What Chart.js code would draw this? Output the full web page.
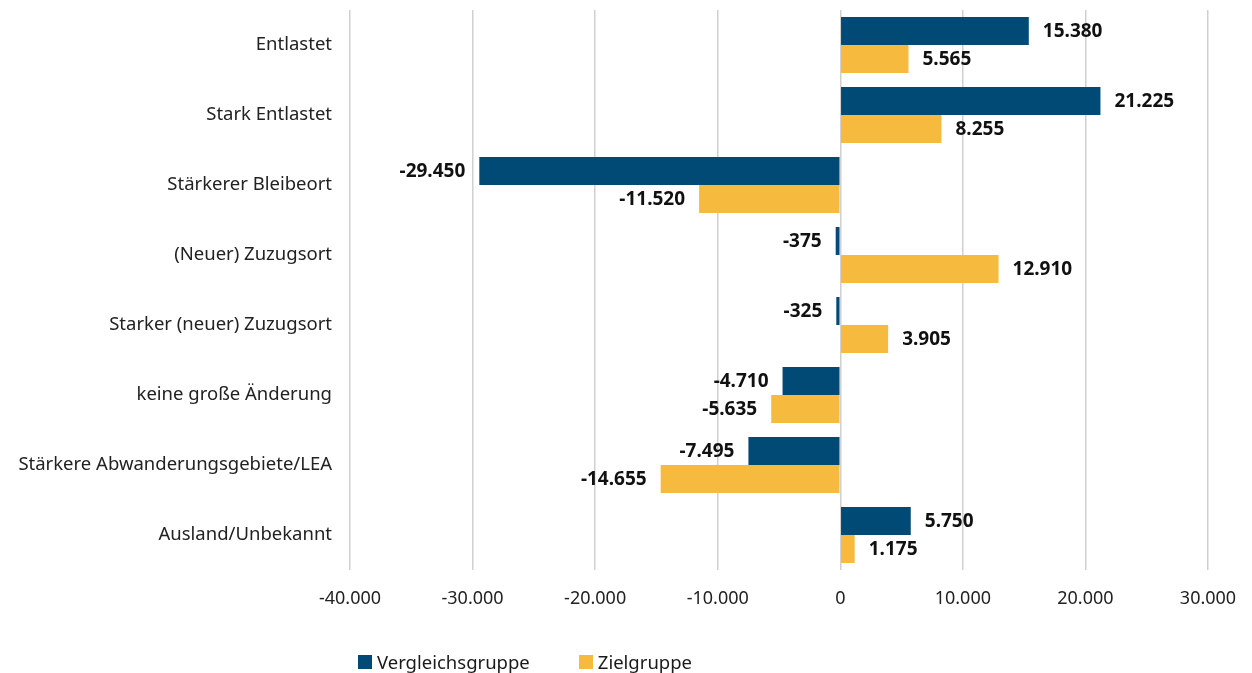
<!DOCTYPE html>
<html lang="de">
<head>
<meta charset="utf-8">
<title>Vergleichsgruppe / Zielgruppe</title>
<script src="https://cdn.jsdelivr.net/npm/chart.js@4"></script>
<style>
  html, body { margin: 0; padding: 0; background: #fff; }
  #wrap { position: relative; width: 1252px; height: 673px; }
  #legend {
    position: absolute; left: 358px; top: 649px;
    font-family: "Noto Sans", sans-serif; font-size: 18.5px; color: #1a1a1a;
    display: flex; align-items: center;
  }
  #legend span.box { display: inline-block; width: 14px; height: 14px; margin-right: 5px; }
  #legend span.item { display: inline-flex; align-items: center; margin-right: 49px; }
</style>
</head>
<body>
<div id="wrap">
  <canvas id="chart" width="1252" height="673"></canvas>
  <div id="legend">
    <span class="item"><span class="box" style="background:#004a75"></span>Vergleichsgruppe</span>
    <span class="item"><span class="box" style="background:#f6bb3e"></span>Zielgruppe</span>
  </div>
</div>
<script>
const categories = [
  'Entlastet',
  'Stark Entlastet',
  'Stärkerer Bleibeort',
  '(Neuer) Zuzugsort',
  'Starker (neuer) Zuzugsort',
  'keine große Änderung',
  'Stärkere Abwanderungsgebiete/LEA',
  'Ausland/Unbekannt'
];
const vergleichsgruppe = [15380, 21225, -29450, -375, -325, -4710, -7495, 5750];
const zielgruppe = [5565, 8255, -11520, 12910, 3905, -5635, -14655, 1175];

const navy = '#004a75';
const yellow = '#f6bb3e';

// 15380 -> "15.380"
function fmt(v) {
  const s = String(Math.abs(v)).replace(/\B(?=(\d{3})+(?!\d))/g, '.');
  return (v < 0 ? '-' : '') + s;
}

// draws the value next to each bar end
const valueLabels = {
  id: 'valueLabels',
  afterDatasetsDraw(chart) {
    const ctx = chart.ctx;
    ctx.save();
    ctx.font = 'bold 19px "Noto Sans", sans-serif';
    ctx.fillStyle = '#111';
    ctx.textBaseline = 'middle';
    chart.data.datasets.forEach((ds, i) => {
      chart.getDatasetMeta(i).data.forEach((bar, j) => {
        const v = ds.data[j];
        if (v >= 0) {
          ctx.textAlign = 'left';
          ctx.fillText(fmt(v), bar.x + 14, bar.y + 1);
        } else {
          ctx.textAlign = 'right';
          ctx.fillText(fmt(v), bar.x - 14, bar.y + 1);
        }
      });
    });
    ctx.restore();
  }
};

const ctx = document.getElementById('chart').getContext('2d');
new Chart(ctx, {
  type: 'bar',
  data: {
    labels: categories,
    datasets: [
      { label: 'Vergleichsgruppe', data: vergleichsgruppe, backgroundColor: navy },
      { label: 'Zielgruppe', data: zielgruppe, backgroundColor: yellow }
    ]
  },
  options: {
    indexAxis: 'y',
    responsive: false,
    animation: false,
    categoryPercentage: 0.8,
    barPercentage: 1.0,
    layout: { padding: { top: 10, right: 44, bottom: 63, left: 0 } },
    plugins: {
      legend: { display: false },
      tooltip: { enabled: false }
    },
    scales: {
      x: {
        min: -40000,
        max: 30000,
        ticks: {
          stepSize: 10000,
          padding: 18,
          color: '#222',
          font: { family: '"Noto Sans", sans-serif', size: 18 },
          callback: v => fmt(v)
        },
        grid: { color: '#d0d0d0', lineWidth: 1.5, drawTicks: false },
        border: { display: false },
        afterFit: s => { s.height = 40; s.paddingLeft = 0; s.paddingRight = 0; }
      },
      y: {
        ticks: {
          padding: 18,
          color: '#222',
          font: { family: '"Noto Sans", sans-serif', size: 18.5 }
        },
        grid: { display: false, drawTicks: false },
        border: { display: false },
        afterFit: s => { s.width = 350; s.paddingTop = 0; s.paddingBottom = 0; }
      }
    }
  },
  plugins: [valueLabels]
});
</script>
</body>
</html>
